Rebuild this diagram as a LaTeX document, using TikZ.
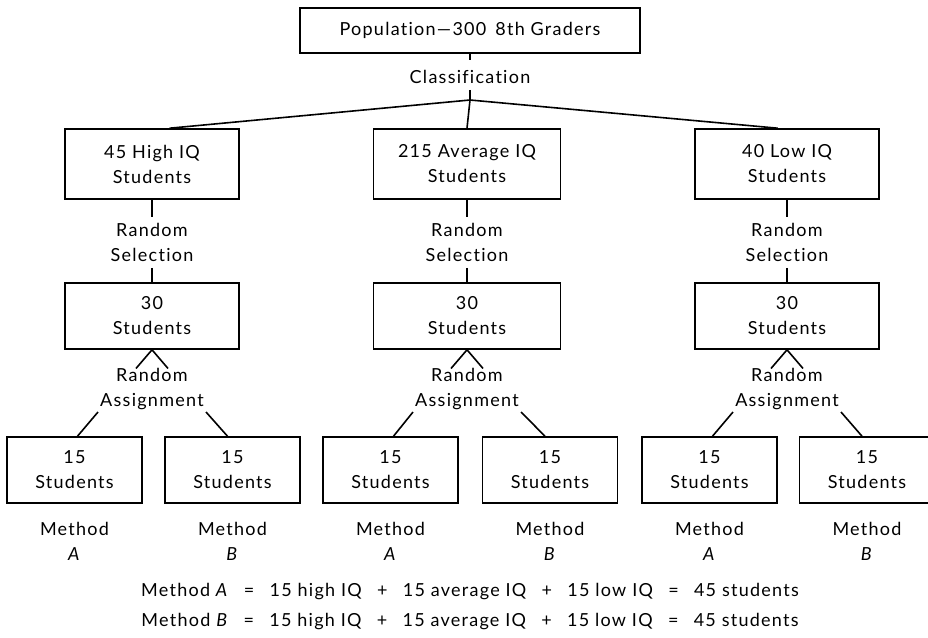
\documentclass[tikz,border=0pt]{standalone}
\usepackage{fontspec}
\setmainfont{Lato}[LetterSpace=7,Ligatures=NoCommon]
\usetikzlibrary{calc}
\newcommand\dgfont{\fontsize{13.5}{18.75}\selectfont}
\newcommand\opsp{\hspace{0.85em}}
\begin{document}
\begin{tikzpicture}[x=0.75pt,y=-0.75pt,
  box/.style={draw,line width=1.2pt,inner sep=0pt,align=center,font=\dgfont},
  bx/.style 2 args={box,minimum width=#1*0.75pt,minimum height=#2*0.75pt},
  lab/.style={inner xsep=0pt,inner ysep=4.5pt,align=center,font=\dgfont},
  ln/.style={line width=1.2pt}]
\useasboundingbox (0,0) rectangle (928,637);
\fill[white] (0,0) rectangle (928,637);

% top
\node[bx={340}{45}] (pop) at (470,30.5) {Population---300\hspace{0.5em}8th Graders};
\node[lab,inner ysep=0pt] (cls) at (470,77) {Classification};
\coordinate (tick) at (470,60);
\coordinate (J) at (470,100);
\draw[ln] (pop.south) -- (tick);
\draw[ln] ($(cls.south)+(0,6)$) -- (J);

% groups
\foreach \g/\x/\w/\xa/\xb/\t in {1/152/174/74.5/232.5/{45 High IQ\\Students},
                                 2/467/187/390.5/550/{215 Average IQ\\Students},
                                 3/787/184/709.5/867/{40 Low IQ\\Students}}{
  \node[bx={\w}{70}] (h\g) at (\x,164) {\t};
  \node[lab] (rs\g) at (\x,242.5) {Random\\Selection};
  \node[bx={\w}{66}] (s\g) at (\x,316) {30\\Students};
  \node[lab,inner ysep=0pt] (ra\g) at (\x,389.5) {Random\\Assignment};
  \node[bx={135}{66}] (a\g) at (\xa,470) {15\\Students};
  \node[bx={135}{66}] (b\g) at (\xb,470) {15\\Students};
  \node[lab,inner ysep=0pt] (ma\g) at (\xa,541.5) {Method\\\textit{A}};
  \node[lab,inner ysep=0pt] (mb\g) at (\xb,541.5) {Method\\\textit{B}};
  \draw[ln] (h\g.south) -- (rs\g.north);
  \draw[ln] (rs\g.south) -- (s\g.north);
  \draw[ln] ($(ra\g.north)+(-16,0)$) -- (s\g.south) -- ($(ra\g.north)+(16,0)$);
  \draw[ln] ($(ra\g.center)+(-54,22.5)$) -- ($(a\g.north)+(3,0)$);
  \draw[ln] ($(ra\g.center)+(54,22.5)$) -- ($(b\g.north)+(-5,0)$);
}
\draw[ln] (J) -- (h2.north);
\draw[ln] (J) -- ($(h1.north west)!0.6!(h1.north east)$);
\draw[ln] (J) -- ($(h3.north west)!0.45!(h3.north east)$);

% bottom
\node[lab,inner ysep=0pt,font=\fontsize{13.5}{23}\selectfont] (eq) at (470,606.5)
  {Method \textit{A}\opsp=\opsp15 high IQ\opsp+\opsp15 average IQ\opsp+\opsp15 low IQ\opsp=\opsp45 students\\
   Method \textit{B}\opsp=\opsp15 high IQ\opsp+\opsp15 average IQ\opsp+\opsp15 low IQ\opsp=\opsp45 students};
\end{tikzpicture}
\end{document}
